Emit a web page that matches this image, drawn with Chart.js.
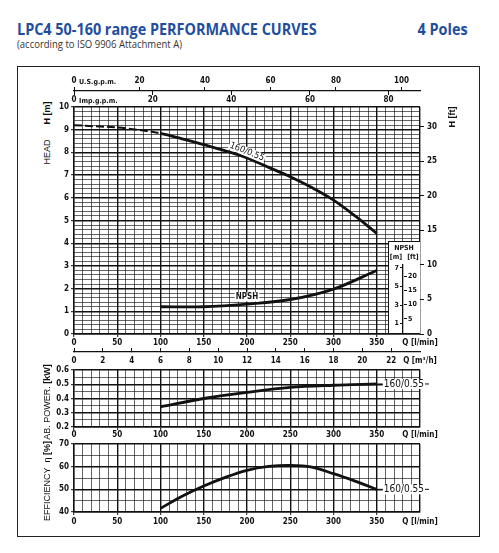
<!DOCTYPE html>
<html><head><meta charset="utf-8">
<script src="https://cdn.jsdelivr.net/npm/chart.js@4"></script>
<style>
html,body{margin:0;padding:0;background:#fff;width:499px;height:553px;overflow:hidden;}
.abs{position:absolute;}
canvas{position:absolute;}
#title{left:17px;top:21px;font:bold 16px "Open Sans",sans-serif;line-height:16px;color:#1f4e9e;white-space:nowrap;transform:scaleX(0.9);transform-origin:left center;}
#poles{right:31px;top:21px;font:bold 16px "Open Sans",sans-serif;line-height:16px;color:#1f4e9e;white-space:nowrap;transform:scaleX(0.9);transform-origin:right center;}
#sub{left:17px;top:39px;font:10px "Open Sans",sans-serif;line-height:10px;color:#333;white-space:nowrap;transform:scaleX(0.95);transform-origin:left center;}
#frame{left:17px;top:66px;width:463px;height:471px;border:1.5px solid #222;box-sizing:border-box;}
.rot{position:absolute;transform:translate(-50%,-50%) rotate(-90deg);white-space:nowrap;font-family:"Liberation Sans",Arial,sans-serif;font-size:9px;color:#111;line-height:10px;}
.b{font-weight:bold;}
#inset{left:388px;top:241px;width:32px;height:92px;background:#fff;border-left:1.3px solid #111;border-top:1.3px solid #111;box-sizing:border-box;}
.it{position:absolute;transform:translate(-50%,-50%);font:bold 7px "Liberation Sans Narrow","DejaVu Sans Condensed",sans-serif;color:#111;white-space:nowrap;line-height:8px;}
</style></head><body>
<div id="title" class="abs">LPC4 50-160 range PERFORMANCE CURVES</div>
<div id="poles" class="abs">4 Poles</div>
<div id="sub" class="abs">(according to ISO 9906 Attachment A)</div>
<div id="frame" class="abs"></div>
<canvas id="cHead" style="left:54px;top:70px;width:410px;height:300px" width="410" height="300"></canvas>
<div id="inset" class="abs"></div>
<canvas id="cInset" style="left:388px;top:241px;width:32px;height:100px" width="32" height="100"></canvas>
<div class="it" style="left:404px;top:248px">NPSH</div>
<div class="it" style="left:396px;top:257px">[m]</div>
<div class="it" style="left:413px;top:257px">[ft]</div>
<canvas id="cPower" style="left:54px;top:360px;width:410px;height:82px" width="410" height="82"></canvas>
<canvas id="cEff" style="left:54px;top:434px;width:410px;height:96px" width="410" height="96"></canvas>
<div class="rot b" style="left:47px;top:113px">H [m]</div>
<div class="rot" style="left:47px;top:152px">HEAD</div>
<div class="rot b" style="left:452px;top:117px">H [ft]</div>
<div class="rot" style="left:47px;top:402px">AB. POWER. <span class="b">[kW]</span></div>
<div class="rot" style="left:47px;top:481px">EFFICIENCY &nbsp;η <span class="b">[%]</span></div>
<script>
// ---------- data ----------
const flowLpm   = [0, 25, 50, 75, 100, 125, 150, 175, 200, 225, 250, 275, 300, 325, 350];
const headM     = [9.2, 9.15, 9.1, 8.99, 8.84, 8.6, 8.34, 8.07, 7.76, 7.34, 6.93, 6.45, 5.9, 5.2, 4.43];
const npshFlow  = [100, 150, 200, 250, 300, 350];
const npshM     = [1.2, 1.2, 1.32, 1.52, 1.98, 2.8];
const powerFlow = [100, 150, 200, 250, 300, 350];
const powerKw   = [0.342, 0.400, 0.443, 0.478, 0.493, 0.502];
const effFlow   = [100, 125, 150, 175, 200, 225, 250, 275, 300, 325, 350];
const effPct    = [41.6, 47.0, 51.5, 55.3, 58.4, 60.1, 60.6, 59.8, 56.9, 53.6, 50.0];
const curveName = '160/0.55';

// ---------- tick labels ----------
const flowTickLabels   = [0, 50, 100, 150, 200, 250, 300, 350];
const headTickLabels   = [0, 1, 2, 3, 4, 5, 6, 7, 8, 9, 10];
const headFtTickLabels = [0, 5, 10, 15, 20, 25, 30];
const usGpmTickLabels  = [0, 20, 40, 60, 80, 100];
const impGpmTickLabels = [0, 20, 40, 60, 80];
const m3hTickLabels    = [0, 2, 4, 6, 8, 10, 12, 14, 16, 18, 20, 22];
const powerTickLabels  = [0.2, 0.3, 0.4, 0.5, 0.6];
const effTickLabels    = [40, 50, 60, 70];
const npshMTickLabels  = [1, 2, 3, 4, 5, 6, 7];
const npshFtTickLabels = [5, 10, 15, 20];
const flowUnitLabel = 'Q [l/min]';
const m3hUnitLabel  = 'Q [m³/h]';
const usUnitLabel   = 'U.S.g.p.m.';
const impUnitLabel  = 'Imp.g.p.m.';

// ---------- unit conversions ----------
const FLOW_MAX = 400, LPM_PER_USGPM = 3.7854, LPM_PER_IMPGPM = 4.5461, LPM_PER_M3H = 1000/60, FT_PER_M = 3.2808;
const HEAD_MAX = 10, NPSH_SCALE_MAX = 7.29;
const US_UNIT_POS = 7.2, IMP_UNIT_POS = 6.2;

// ---------- helpers ----------
const FN = '"Liberation Sans Narrow","DejaVu Sans Condensed","Liberation Sans",sans-serif';
const tickFont = {family: FN, size: 8, weight: 'bold'};
const unitFont = {family: FN, size: 7, weight: 'bold'};
const INK = '#111', GRID = '#111', NONE = 'rgba(0,0,0,0)';
const near = (a, b) => Math.abs(a - b) < 1e-6;
const isIn = (arr, v) => arr.some(a => near(a, v));
const range = (a, b, s) => Array.from({length: Math.round((b - a) / s) + 1}, (_, i) => +(a + i * s).toFixed(6));
const explicitTicks = vals => s => { s.ticks = vals.map(v => ({value: v})); };
const fixW = w => s => { s.width = w; };
const fixH = h => s => { s.height = h; };
const isMult = (v, m) => near(v / m, Math.round(v / m));

Chart.defaults.animation = false;
Chart.defaults.responsive = false;
Chart.defaults.maintainAspectRatio = false;
Chart.defaults.plugins.legend.display = false;
Chart.defaults.plugins.tooltip.enabled = false;
Chart.defaults.font.family = FN;

const curveLabels = {
  id: 'curveLabels',
  afterDatasetsDraw(chart, args, opts) {
    const ctx = chart.ctx, xs = chart.scales.x, ys = chart.scales.y;
    (opts.items || []).forEach(it => {
      const px = xs.getPixelForValue(it.x), py = ys.getPixelForValue(it.y);
      ctx.save();
      ctx.fillStyle = INK; ctx.strokeStyle = INK; ctx.lineWidth = 1;
      ctx.font = it.font; ctx.textBaseline = 'middle';
      const w = ctx.measureText(it.text).width;
      if (it.lead) {
        ctx.fillStyle = '#fff'; ctx.fillRect(px + 6, py - 5, w + 3, 10);
        ctx.fillStyle = INK;
        ctx.beginPath(); ctx.moveTo(px, py); ctx.lineTo(px + 6, py);
        ctx.moveTo(px + 8 + w, py); ctx.lineTo(px + 12 + w, py); ctx.stroke();
        ctx.textAlign = 'left'; ctx.fillText(it.text, px + 7, py);
      } else {
        ctx.translate(px + (it.dx || 0), py + (it.dy || 0));
        ctx.rotate((it.rot || 0) * Math.PI / 180);
        ctx.fillStyle = '#fff'; ctx.fillRect(-w / 2 - 1, -4.5, w + 2, 9);
        ctx.fillStyle = INK;
        ctx.textAlign = 'center'; ctx.fillText(it.text, 0, 0);
      }
      ctx.restore();
    });
  }
};

function flowAxis(h, pad) {
  return {
    type: 'linear', position: 'bottom', weight: 1, min: 0, max: FLOW_MAX,
    afterBuildTicks: explicitTicks(range(0, FLOW_MAX, 10)), afterFit: fixH(h),
    ticks: {autoSkip: false, maxRotation: 0, font: tickFont, color: INK, padding: pad,
      callback: v => isIn(flowTickLabels, v) ? String(v) : near(v, FLOW_MAX) ? flowUnitLabel : ''},
    grid: {color: GRID, lineWidth: c => (c.tick && isMult(c.tick.value, 50)) ? 1.4 : 0.65, tickLength: 3,
      tickColor: c => (c.tick && isIn(flowTickLabels, c.tick.value)) ? INK : NONE, tickWidth: 1},
    border: {display: true, color: INK, width: 1.4}
  };
}
function valueAxis(min, max, step, labels, majorStep, fmt) {
  return {
    type: 'linear', position: 'left', min, max,
    afterBuildTicks: explicitTicks(range(min, max, step)), afterFit: fixW(20),
    ticks: {autoSkip: false, font: tickFont, color: INK, padding: 2,
      callback: v => isIn(labels, v) ? fmt(v) : ''},
    grid: {color: GRID, lineWidth: c => (c.tick && isMult(c.tick.value, majorStep)) ? 1.4 : 0.65, tickLength: 3,
      tickColor: c => (c.tick && isIn(labels, c.tick.value)) ? INK : NONE, tickWidth: 1},
    border: {display: true, color: INK, width: 1.4}
  };
}
const lineStyle = {borderColor: INK, borderWidth: 2.8, pointRadius: 0, tension: 0.35, fill: false, borderCapStyle: 'butt'};
const pts = (xs, ys) => xs.map((x, i) => ({x, y: ys[i]}));

// ---------- HEAD chart ----------
new Chart(document.getElementById('cHead'), {
  type: 'line',
  data: {datasets: [
    Object.assign({}, lineStyle, {data: pts(flowLpm, headM),
      segment: {borderDash: c => c.p1.parsed.x <= 100 ? [8, 3] : undefined,
                borderWidth: c => c.p1.parsed.x <= 100 ? 2 : 2.8}}),
    Object.assign({}, lineStyle, {data: pts(npshFlow, npshM)})
  ]},
  options: {
    layout: {padding: 0},
    scales: {
      x: flowAxis(18, 1),
      m3h: {
        type: 'linear', position: 'bottom', weight: 2, min: 0, max: FLOW_MAX / LPM_PER_M3H,
        afterBuildTicks: explicitTicks(m3hTickLabels.concat([FLOW_MAX / LPM_PER_M3H])), afterFit: fixH(18),
        ticks: {autoSkip: false, maxRotation: 0, font: tickFont, color: INK, padding: 8,
          callback: v => isIn(m3hTickLabels, v) ? String(v) : m3hUnitLabel},
        grid: {drawOnChartArea: false, tickLength: -4, tickWidth: 1,
          tickColor: c => (c.tick && isIn(m3hTickLabels, c.tick.value)) ? INK : NONE},
        border: {display: true, color: INK, width: 1.2}
      },
      impLbl: {
        type: 'linear', position: 'top', weight: 1, min: 0, max: FLOW_MAX / LPM_PER_IMPGPM,
        afterBuildTicks: explicitTicks(impGpmTickLabels.concat([IMP_UNIT_POS])), afterFit: fixH(12),
        ticks: {autoSkip: false, maxRotation: 0, color: INK, padding: 2,
          font: c => (c.tick && isIn(impGpmTickLabels, c.tick.value)) ? tickFont : unitFont,
          callback: v => isIn(impGpmTickLabels, v) ? String(v) : impUnitLabel},
        grid: {drawOnChartArea: false, drawTicks: false},
        border: {display: false}
      },
      impTck: {
        type: 'linear', position: 'top', weight: 2, min: 0, max: FLOW_MAX / LPM_PER_IMPGPM,
        afterBuildTicks: explicitTicks(impGpmTickLabels), afterFit: fixH(4),
        ticks: {display: false},
        grid: {drawOnChartArea: false, tickLength: 4, tickColor: INK, tickWidth: 1},
        border: {display: false}
      },
      us: {
        type: 'linear', position: 'top', weight: 3, min: 0, max: FLOW_MAX / LPM_PER_USGPM,
        afterBuildTicks: explicitTicks(usGpmTickLabels.concat([US_UNIT_POS])), afterFit: fixH(21),
        ticks: {autoSkip: false, maxRotation: 0, color: INK, padding: 1,
          font: c => (c.tick && isIn(usGpmTickLabels, c.tick.value)) ? tickFont : unitFont,
          callback: v => isIn(usGpmTickLabels, v) ? String(v) : usUnitLabel},
        grid: {drawOnChartArea: false, tickLength: 4, tickWidth: 1,
          tickColor: c => (c.tick && isIn(usGpmTickLabels, c.tick.value)) ? INK : NONE},
        border: {display: true, color: INK, width: 1.2}
      },
      y: valueAxis(0, HEAD_MAX, 0.2, headTickLabels, 1, v => String(v)),
      ft: {
        type: 'linear', position: 'right', min: 0, max: HEAD_MAX * FT_PER_M,
        afterBuildTicks: explicitTicks(headFtTickLabels), afterFit: fixW(44),
        ticks: {autoSkip: false, font: tickFont, color: INK, padding: 3, callback: v => String(v)},
        grid: {drawOnChartArea: false, tickLength: 4, tickColor: INK, tickWidth: 1},
        border: {display: false}
      }
    },
    plugins: {curveLabels: {items: [
      {x: flowLpm[8], y: headM[8], dx: 0, dy: -6, rot: 22, text: curveName, font: '9px ' + FN},
      {x: npshFlow[2], y: npshM[2], dx: 0, dy: -7, rot: 0, text: 'NPSH', font: 'bold 8px ' + FN}
    ]}}
  },
  plugins: [curveLabels]
});

// ---------- NPSH scale inset ----------
new Chart(document.getElementById('cInset'), {
  type: 'line',
  data: {datasets: []},
  options: {
    layout: {padding: {top: 24, bottom: 8, left: 0, right: 0}},
    scales: {
      x: {type: 'linear', display: false, min: 0, max: 1},
      m: {type: 'linear', position: 'left', min: 0, max: NPSH_SCALE_MAX,
        afterBuildTicks: explicitTicks(npshMTickLabels), afterFit: fixW(15),
        ticks: {font: {family: FN, size: 7, weight: 'bold'}, color: INK, padding: 1, callback: v => String(v)},
        grid: {drawOnChartArea: false, tickLength: 3, tickColor: INK, tickWidth: 1},
        border: {display: true, color: INK, width: 1.3}},
      ftn: {type: 'linear', position: 'right', min: 0, max: NPSH_SCALE_MAX * FT_PER_M,
        afterBuildTicks: explicitTicks(npshFtTickLabels), afterFit: fixW(16),
        ticks: {font: {family: FN, size: 7, weight: 'bold'}, color: INK, padding: 1, callback: v => String(v)},
        grid: {drawOnChartArea: false, tickLength: 3, tickColor: INK, tickWidth: 1},
        border: {display: false}}
    }
  }
});

// ---------- POWER chart ----------
new Chart(document.getElementById('cPower'), {
  type: 'line',
  data: {datasets: [Object.assign({}, lineStyle, {data: pts(powerFlow, powerKw)})]},
  options: {
    layout: {padding: {top: 10, right: 44, left: 0, bottom: 0}},
    scales: {x: flowAxis(15, 0), y: valueAxis(0.2, 0.6, 0.05, powerTickLabels, 0.1, v => v.toFixed(1))},
    plugins: {curveLabels: {items: [
      {x: powerFlow[powerFlow.length - 1], y: powerKw[powerKw.length - 1], lead: true, text: curveName, font: '10px ' + FN}
    ]}}
  },
  plugins: [curveLabels]
});

// ---------- EFFICIENCY chart ----------
new Chart(document.getElementById('cEff'), {
  type: 'line',
  data: {datasets: [Object.assign({}, lineStyle, {data: pts(effFlow, effPct)})]},
  options: {
    layout: {padding: {top: 10, right: 44, left: 0, bottom: 0}},
    scales: {x: flowAxis(18, 2), y: valueAxis(40, 70, 5, effTickLabels, 10, v => String(v))},
    plugins: {curveLabels: {items: [
      {x: effFlow[effFlow.length - 1], y: effPct[effPct.length - 1], lead: true, text: curveName, font: '10px ' + FN}
    ]}}
  },
  plugins: [curveLabels]
});
</script>
</body></html>
